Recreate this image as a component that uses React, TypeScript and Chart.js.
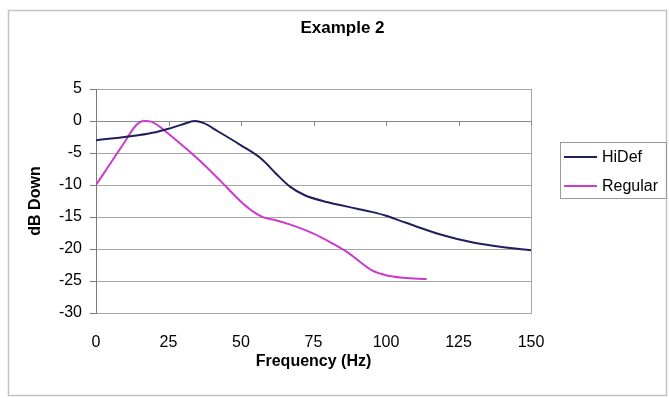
import React, { useEffect, useRef } from 'react';
import { Chart, registerables } from 'chart.js';

Chart.register(...registerables);

const chartTitle = 'Example 2';
const xTitle = 'Frequency (Hz)';
const yTitle = 'dB Down';
const seriesLabels = ['HiDef', 'Regular'];
const seriesColors = ['#1f1f5e', '#cc3acc'];

const hidefHz = [0, 8, 15, 20, 25, 30, 34, 37, 42, 50, 57, 62, 67, 72, 80, 90, 95, 100, 105, 110, 120, 130, 140, 150];
const hidefDb = [-3, -2.6, -2.2, -1.8, -1.2, -0.5, 0, -0.3, -1.6, -3.8, -5.9, -8.2, -10.3, -11.6, -12.7, -13.7, -14.2, -14.8, -15.6, -16.4, -17.9, -19.0, -19.7, -20.2];

const regularHz = [0, 5, 10, 13, 15, 17, 19, 22, 25, 30, 36, 43, 50, 55, 58, 62, 67, 75, 81, 87, 91, 95, 100, 106, 114];
const regularDb = [-10, -6.6, -3.2, -1.1, -0.2, 0, -0.1, -0.9, -2, -3.9, -6.3, -9.4, -12.6, -14.4, -15.1, -15.5, -16.2, -17.6, -19, -20.6, -22, -23.3, -24.1, -24.5, -24.7];

const xTickValues = [0, 25, 50, 75, 100, 125, 150];
const yMin = -30;
const yMax = 5;
const yStep = 5;

const FONT = '"Liberation Sans", Arial, sans-serif';

const framePlugin = {
  id: 'frameAndLegend',
  beforeDraw(chart: any) {
    const { ctx, width, height } = chart;
    ctx.save();
    ctx.fillStyle = '#ffffff';
    ctx.fillRect(0, 0, width, height);
    ctx.strokeStyle = '#c4c4c4';
    ctx.lineWidth = 1.5;
    ctx.strokeRect(8.5, 10.5, 658, 385);
    ctx.restore();
  },
  beforeDatasetsDraw(chart: any) {
    const { ctx } = chart;
    const xs = chart.scales.x;
    const ys = chart.scales.y;
    const y0 = ys.getPixelForValue(0);
    ctx.save();
    ctx.strokeStyle = '#8a8a8a';
    ctx.lineWidth = 1;
    ctx.beginPath();
    ctx.moveTo(xs.left, Math.round(y0) + 0.5);
    ctx.lineTo(xs.right, Math.round(y0) + 0.5);
    xTickValues.forEach((v) => {
      const px = Math.round(xs.getPixelForValue(v)) + 0.5;
      ctx.moveTo(px, y0);
      ctx.lineTo(px, y0 + 5);
    });
    ctx.stroke();
    ctx.restore();
  },
  afterDraw(chart: any) {
    const { ctx } = chart;
    const boxLeft = 560.5;
    const boxTop = 142.5;
    const boxW = 106;
    const boxH = 56;
    ctx.save();
    ctx.strokeStyle = '#9a9a9a';
    ctx.lineWidth = 1;
    ctx.strokeRect(boxLeft, boxTop, boxW, boxH);
    ctx.font = `16px ${FONT}`;
    ctx.textBaseline = 'middle';
    ctx.fillStyle = '#000000';
    chart.data.datasets.forEach((ds: any, i: number) => {
      const rowY = 157 + i * 29;
      ctx.strokeStyle = ds.borderColor;
      ctx.lineWidth = 2;
      ctx.beginPath();
      ctx.moveTo(564, rowY);
      ctx.lineTo(597, rowY);
      ctx.stroke();
      ctx.fillText(ds.label, 602, rowY + 1);
    });
    ctx.restore();
  },
};

export default function App() {
  const canvasRef = useRef<HTMLCanvasElement | null>(null);

  useEffect(() => {
    if (!canvasRef.current) return;
    const chart = new Chart(canvasRef.current, {
      type: 'line',
      data: {
        datasets: [
          {
            label: seriesLabels[0],
            data: hidefHz.map((x, i) => ({ x, y: hidefDb[i] })),
            borderColor: seriesColors[0],
            backgroundColor: seriesColors[0],
            borderWidth: 2,
            pointRadius: 0,
            cubicInterpolationMode: 'monotone',
            fill: false,
          },
          {
            label: seriesLabels[1],
            data: regularHz.map((x, i) => ({ x, y: regularDb[i] })),
            borderColor: seriesColors[1],
            backgroundColor: seriesColors[1],
            borderWidth: 2,
            pointRadius: 0,
            cubicInterpolationMode: 'monotone',
            fill: false,
          },
        ],
      },
      options: {
        animation: false,
        responsive: false,
        devicePixelRatio: 1,
        layout: { padding: { left: 16, right: 0, top: 10, bottom: 3 } },
        plugins: {
          legend: { display: false },
          tooltip: { enabled: false },
          title: {
            display: true,
            text: chartTitle,
            color: '#000000',
            font: { family: FONT, size: 17, weight: 'bold' },
            padding: { top: 8, bottom: 50.6 },
          },
        },
        scales: {
          x: {
            type: 'linear',
            min: 0,
            max: 150,
            afterBuildTicks: (scale: any) => {
              scale.ticks = xTickValues.map((v) => ({ value: v }));
            },
            ticks: {
              color: '#000000',
              font: { family: FONT, size: 16 },
              padding: 20,
              maxRotation: 0,
            },
            grid: { display: false, drawTicks: false },
            border: { display: true, color: '#a6a6a6', width: 1 },
            title: {
              display: true,
              text: xTitle,
              color: '#000000',
              font: { family: FONT, size: 16, weight: 'bold' },
              padding: { top: 0, bottom: 24 },
            },
            afterFit: (scale: any) => {
              scale.height = 82;
            },
          },
          y: {
            type: 'linear',
            min: yMin,
            max: yMax,
            ticks: {
              stepSize: yStep,
              color: '#000000',
              font: { family: FONT, size: 16 },
              padding: 8,
            },
            grid: {
              color: '#a6a6a6',
              lineWidth: 1,
              tickLength: 6,
              tickColor: '#7a7a7a',
            },
            border: { display: true, color: '#7a7a7a', width: 1 },
            title: {
              display: true,
              text: yTitle,
              color: '#000000',
              font: { family: FONT, size: 16, weight: 'bold' },
              padding: { top: 10, bottom: 0 },
            },
            afterFit: (scale: any) => {
              scale.width = 80;
            },
          },
          y2: {
            type: 'linear',
            position: 'right',
            min: yMin,
            max: yMax,
            ticks: { display: false },
            grid: { display: false, drawTicks: false },
            border: { display: true, color: '#a6a6a6', width: 1 },
            afterFit: (scale: any) => {
              scale.width = 138;
            },
          },
        },
      },
      plugins: [framePlugin],
    } as any);
    return () => chart.destroy();
  }, []);

  return (
    <div style={{ position: 'absolute', left: 0, top: 0, width: 669, height: 398 }}>
      <canvas ref={canvasRef} width={669} height={398} style={{ display: 'block' }} />
    </div>
  );
}
